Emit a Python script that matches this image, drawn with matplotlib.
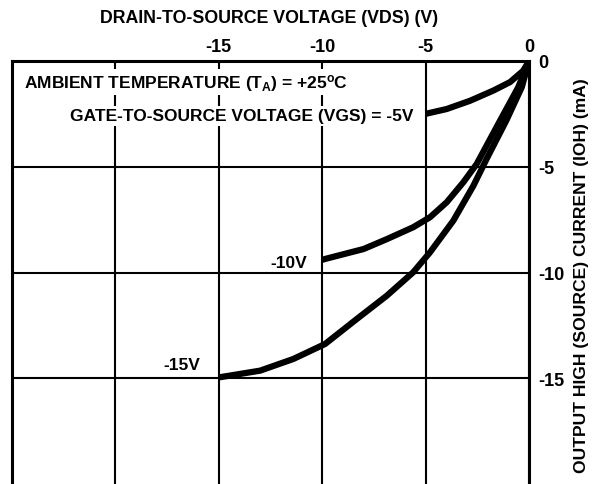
import matplotlib
matplotlib.use('Agg')
import matplotlib.pyplot as plt

plt.rcParams['font.family'] = ['Liberation Sans', 'DejaVu Sans']
plt.rcParams['font.weight'] = 'bold'
plt.rcParams['mathtext.fontset'] = 'custom'
plt.rcParams['mathtext.rm'] = 'Liberation Sans:bold'
plt.rcParams['mathtext.it'] = 'Liberation Sans:bold'
plt.rcParams['mathtext.bf'] = 'Liberation Sans:bold'

# curve data (VDS in V, IOH in mA)
vds_5 = [0, -0.28, -0.92, -1.73, -2.85, -3.98, -5.0]
ioh_5 = [0, -0.46, -1.0, -1.4, -1.88, -2.27, -2.5]

vds_10 = [0, -0.52, -1.4, -2.53, -3.18, -3.98, -4.79, -5.6, -6.87, -8.0, -9.86, -10.0]
ioh_10 = [0, -1.24, -2.82, -4.87, -5.74, -6.68, -7.39, -7.86, -8.42, -8.89, -9.36, -9.4]

vds_15 = [0, -0.35, -1.1, -2.05, -2.69, -3.66, -4.79, -5.6, -6.88, -8.33, -9.86, -11.4,
          -13.0, -15.0]
ioh_15 = [0, -1.24, -2.82, -4.63, -5.9, -7.55, -9.05, -9.99, -11.1, -12.2, -13.38, -14.09,
          -14.64, -14.96]

xticks = [-20, -15, -10, -5, 0]
xtick_labels = ['', '-15', '-10', '-5', '0']
yticks = [0, -5, -10, -15]
ytick_labels = ['0', '-5', '-10', '-15']

fig = plt.figure(figsize=(5.93, 4.85), dpi=100)
ax = fig.add_axes([12 / 593, 0.0, 517 / 593, 1 - 62 / 485])

lw = 4.5
for xs, ys in [(vds_5, ioh_5), (vds_10, ioh_10), (vds_15, ioh_15)]:
    ax.plot(xs, ys, color='black', lw=lw, solid_capstyle='butt',
            solid_joinstyle='round', zorder=4)

ax.set_xlim(-25, 0)
ax.set_ylim(-20, 0)

ax.xaxis.tick_top()
ax.set_xticks(xticks)
ax.set_xticklabels(xtick_labels, fontsize=13, fontweight='bold')
ax.yaxis.tick_right()
ax.set_yticks(yticks)
ax.set_yticklabels(ytick_labels, fontsize=13, fontweight='bold')
ax.tick_params(axis='x', length=0, pad=4)
ax.tick_params(axis='y', length=0, pad=7)

ax.grid(True, color='black', lw=1.5, zorder=1)
ax.set_axisbelow(True)

for side in ['top', 'left', 'right']:
    ax.spines[side].set_linewidth(2.2)
ax.spines['bottom'].set_visible(False)

ax.text(0.497, 1.104, 'DRAIN-TO-SOURCE VOLTAGE (VDS) (V)', transform=ax.transAxes,
        fontsize=12.8, fontweight='bold', ha='center', va='center')
ax.text(1.1025, 0.496, 'OUTPUT HIGH (SOURCE) CURRENT (IOH) (mA)', transform=ax.transAxes,
        fontsize=12.6, fontweight='bold', ha='center', va='center', rotation=90)

box = dict(facecolor='white', edgecolor='none', pad=2)
ax.text(-24.4, -1.0, r'AMBIENT TEMPERATURE (T$_\mathrm{A}$) = +25$^\mathrm{o}$C',
        fontsize=12.5, fontweight='bold', ha='left', va='center', bbox=box, zorder=3)
ax.text(-5.6, -2.6, 'GATE-TO-SOURCE VOLTAGE (VGS) = -5V',
        fontsize=12.5, fontweight='bold', ha='right', va='center', bbox=box, zorder=3)
ax.text(-10.73, -9.53, '-10V', fontsize=12.5, fontweight='bold', ha='right', va='center', zorder=3)
ax.text(-15.9, -14.37, '-15V', fontsize=12.5, fontweight='bold', ha='right', va='center', zorder=3)

fig.savefig('out.png', dpi=100)
